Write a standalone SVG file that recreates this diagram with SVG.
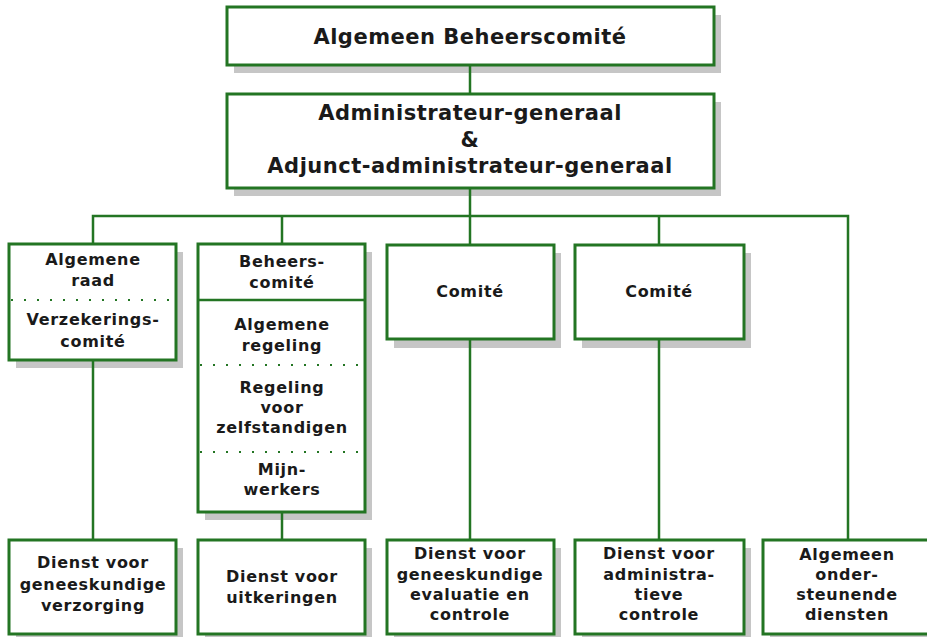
<svg xmlns="http://www.w3.org/2000/svg" width="927" height="637" viewBox="0 0 927 637">
<defs>
<style>
.bg{fill:#ffffff}
.sh{fill:#c6c6c6}
.box{fill:#ffffff;stroke:#237523;stroke-width:3}
.sep{stroke:#237523;stroke-width:2.5;fill:none}
.dot{stroke:#237523;stroke-width:2;fill:none;stroke-dasharray:2 11}
.con{stroke:#237523;stroke-width:2.5;fill:none}
text{font-family:"DejaVu Sans","Verdana",sans-serif;font-weight:bold;fill:#1a1a1a;text-anchor:middle}
.t1{font-size:21px;letter-spacing:0.5px}
.t2{font-size:16px;letter-spacing:0.7px}
</style>
</defs>
<rect class="bg" x="0" y="0" width="927" height="637"/>

<g id="n-top">
<rect class="sh" x="234" y="15" width="487" height="58"/>
<rect class="box" x="227" y="7" width="487" height="58"/>
<text class="t1" x="470" y="44">Algemeen Beheerscomité</text>
</g>

<g id="n-admin">
<rect class="sh" x="234" y="102" width="487" height="94"/>
<rect class="box" x="227" y="94" width="487" height="94"/>
<text class="t1" x="470" y="120">Administrateur-generaal</text>
<text class="t1" x="470" y="147">&amp;</text>
<text class="t1" x="470" y="173">Adjunct-administrateur-generaal</text>
</g>

<g id="n-raad">
<rect class="sh" x="16" y="252" width="167" height="116"/>
<rect class="box" x="9" y="244" width="167" height="116"/>
<line class="dot" x1="11" y1="300" x2="175" y2="300"/>
<text class="t2" x="93" y="265">Algemene</text>
<text class="t2" x="93" y="286">raad</text>
<text class="t2" x="93" y="325">Verzekerings-</text>
<text class="t2" x="93" y="347">comité</text>
</g>

<g id="n-beheer">
<rect class="sh" x="205" y="252" width="167" height="268"/>
<rect class="box" x="198" y="244" width="167" height="268"/>
<line class="sep" x1="198" y1="300" x2="365" y2="300"/>
<line class="dot" x1="200" y1="365" x2="364" y2="365"/>
<line class="dot" x1="200" y1="452" x2="364" y2="452"/>
<text class="t2" x="282" y="267">Beheers-</text>
<text class="t2" x="282" y="288">comité</text>
<text class="t2" x="282" y="330">Algemene</text>
<text class="t2" x="282" y="351">regeling</text>
<text class="t2" x="282" y="393">Regeling</text>
<text class="t2" x="282" y="413">voor</text>
<text class="t2" x="282" y="433">zelfstandigen</text>
<text class="t2" x="282" y="475">Mijn-</text>
<text class="t2" x="282" y="495">werkers</text>
</g>

<g id="n-comite1">
<rect class="sh" x="394" y="253" width="167" height="95"/>
<rect class="box" x="387" y="245" width="167" height="94"/>
<text class="t2" x="470" y="297">Comité</text>
</g>

<g id="n-comite2">
<rect class="sh" x="582" y="253" width="169" height="95"/>
<rect class="box" x="575" y="245" width="169" height="94"/>
<text class="t2" x="659" y="297">Comité</text>
</g>

<g id="n-dienst1">
<rect class="sh" x="16" y="548" width="167" height="94"/>
<rect class="box" x="9" y="540" width="167" height="94"/>
<text class="t2" x="93" y="568">Dienst voor</text>
<text class="t2" x="93" y="590">geneeskundige</text>
<text class="t2" x="93" y="611">verzorging</text>
</g>

<g id="n-dienst2">
<rect class="sh" x="205" y="548" width="167" height="94"/>
<rect class="box" x="198" y="540" width="167" height="94"/>
<text class="t2" x="282" y="582">Dienst voor</text>
<text class="t2" x="282" y="603">uitkeringen</text>
</g>

<g id="n-dienst3">
<rect class="sh" x="394" y="548" width="167" height="94"/>
<rect class="box" x="387" y="540" width="167" height="94"/>
<text class="t2" x="470" y="559">Dienst voor</text>
<text class="t2" x="470" y="580">geneeskundige</text>
<text class="t2" x="470" y="600">evaluatie en</text>
<text class="t2" x="470" y="620">controle</text>
</g>

<g id="n-dienst4">
<rect class="sh" x="582" y="548" width="169" height="94"/>
<rect class="box" x="575" y="540" width="169" height="94"/>
<text class="t2" x="659" y="559">Dienst voor</text>
<text class="t2" x="659" y="580">administra-</text>
<text class="t2" x="659" y="600">tieve</text>
<text class="t2" x="659" y="620">controle</text>
</g>

<g id="n-algemeen">
<rect class="sh" x="770" y="548" width="168" height="94"/>
<rect class="box" x="763" y="540" width="168" height="94"/>
<text class="t2" x="847" y="560">Algemeen</text>
<text class="t2" x="847" y="580">onder-</text>
<text class="t2" x="847" y="600">steunende</text>
<text class="t2" x="847" y="620">diensten</text>
</g>

<g id="connectors">
<line class="con" x1="470" y1="65" x2="470" y2="94"/>
<line class="con" x1="470" y1="188" x2="470" y2="245"/>
<polyline class="con" points="93,244 93,216 848,216 848,540"/>
<line class="con" x1="282" y1="216" x2="282" y2="244"/>
<line class="con" x1="659" y1="216" x2="659" y2="245"/>
<line class="con" x1="93" y1="360" x2="93" y2="540"/>
<line class="con" x1="282" y1="512" x2="282" y2="540"/>
<line class="con" x1="470" y1="339" x2="470" y2="540"/>
<line class="con" x1="659" y1="339" x2="659" y2="540"/>
</g>
</svg>
